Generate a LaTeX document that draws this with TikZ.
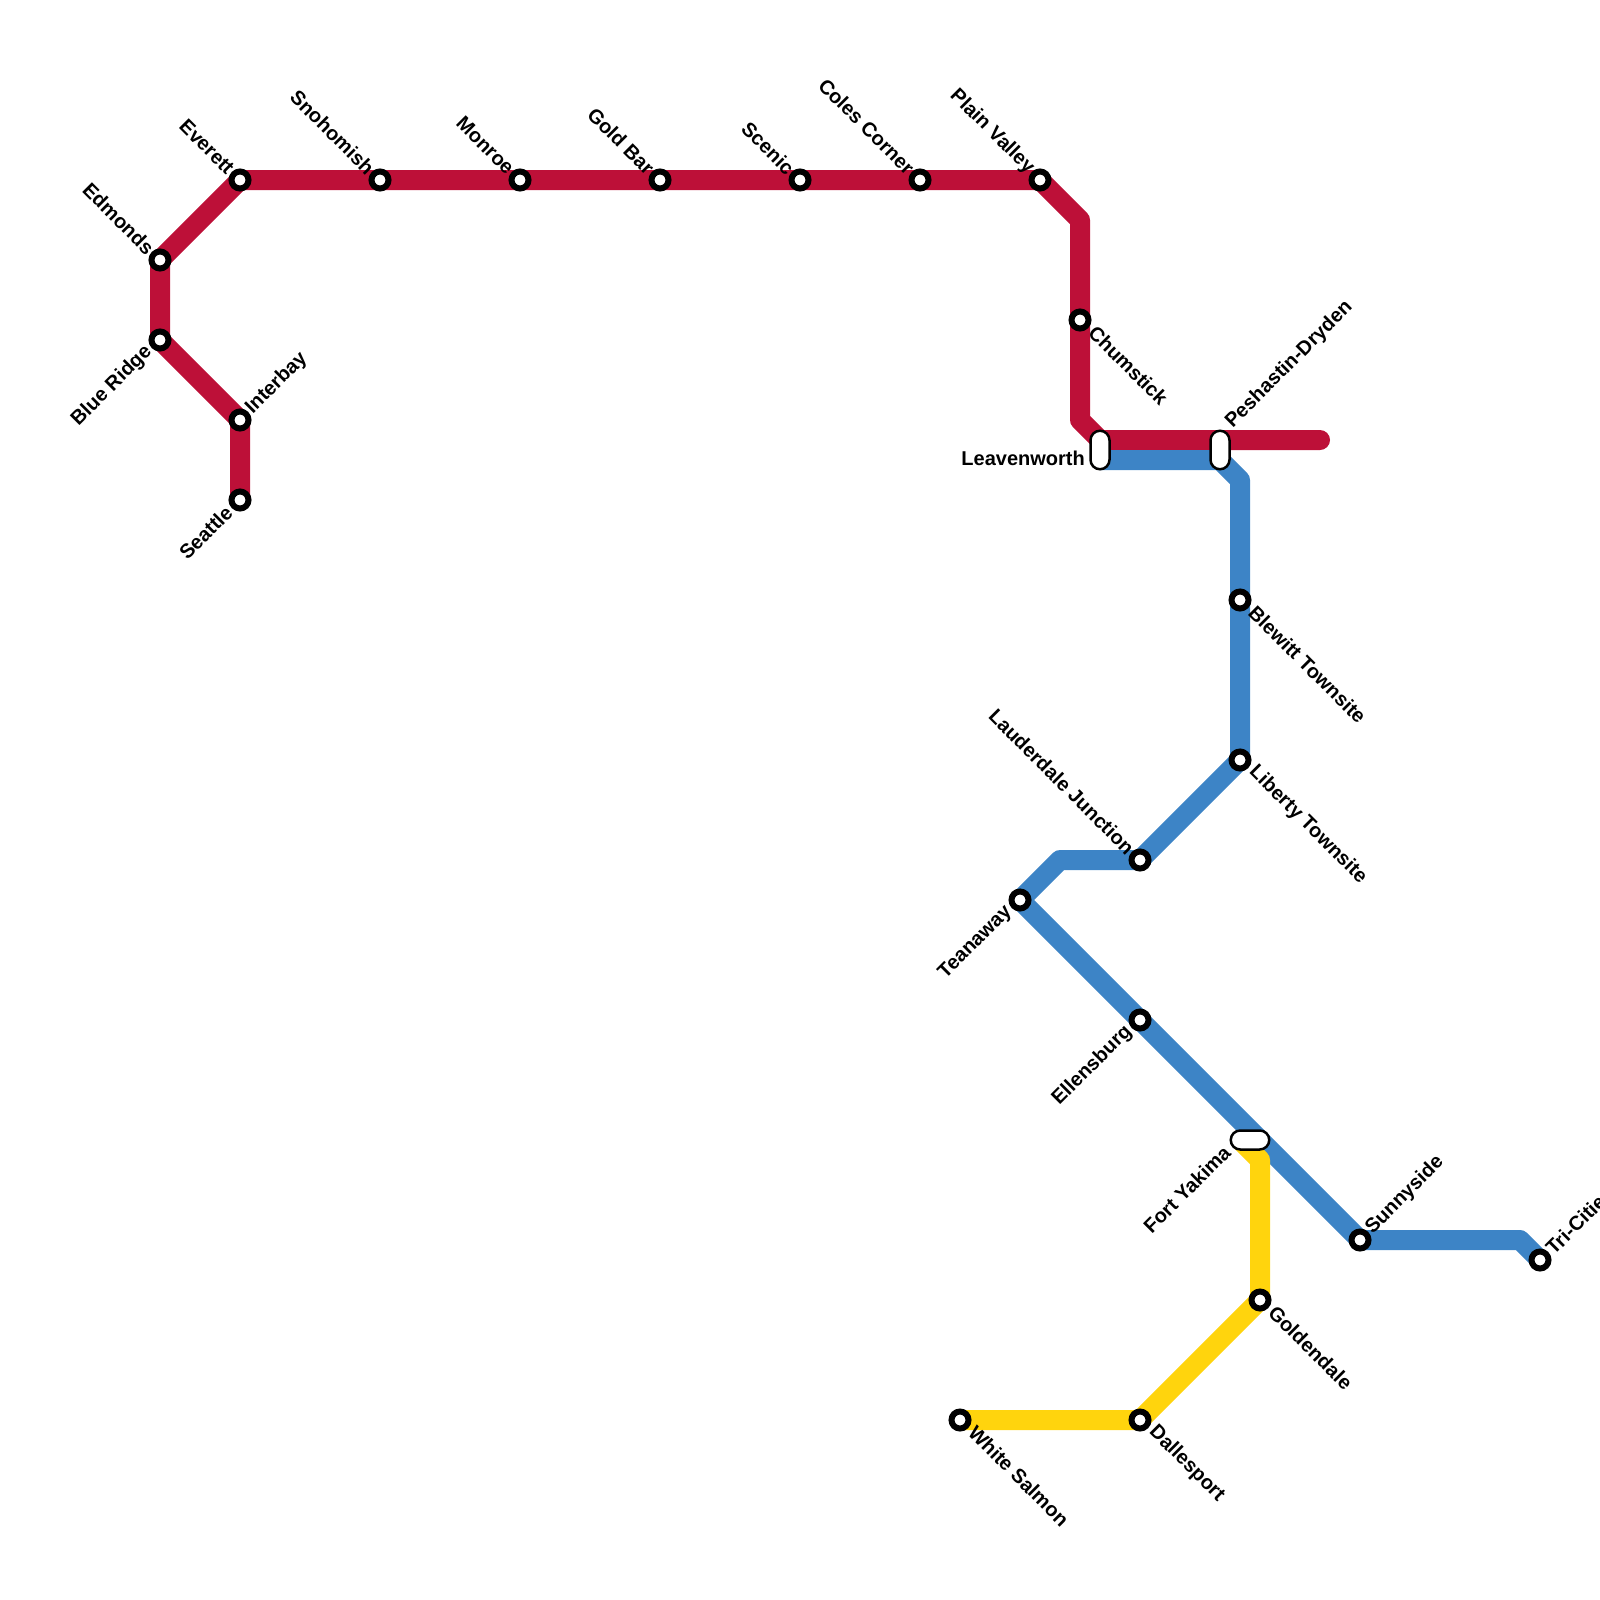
\documentclass[tikz,border=0pt]{standalone}
\usepackage{fontspec}
\setmainfont{Liberation Sans}
\usetikzlibrary{backgrounds}
\definecolor{redline}{HTML}{BD1038}
\definecolor{blueline}{HTML}{3D84C6}
\definecolor{yellowline}{HTML}{FFD40D}
\tikzset{
  metro/.style={line width=20pt,line join=round,line cap=round},
  stop/.style={circle,draw=black,fill=white,line width=6pt,minimum size=17pt,inner sep=0pt},
  pill/.style={draw=black,fill=white,line width=2.5pt,rounded corners=9.5pt,inner sep=0pt},
  pillv/.style={pill,minimum width=19pt,minimum height=38.5pt},
  pillh/.style={pill,minimum width=38.5pt,minimum height=19pt},
  lbl/.style={font=\fontsize{20pt}{22pt}\selectfont\bfseries,inner sep=0pt,text=black},
  ul/.style={lbl,xshift=-9pt,yshift=9pt,rotate=-45,anchor=east},
  ur/.style={lbl,xshift=9pt,yshift=9pt,rotate=45,anchor=west},
  ll/.style={lbl,xshift=-11pt,yshift=-9pt,rotate=45,anchor=east},
  lr/.style={lbl,xshift=12pt,yshift=-9pt,rotate=-45,anchor=west},
}
\begin{document}
\begin{tikzpicture}[x=1pt,y=-1pt]
\useasboundingbox (0,0) rectangle (1600,1600);
% stations
\node[stop] (seattle) at (240,500) {};
\node[stop] (interbay) at (240,420) {};
\node[stop] (blueridge) at (160,340) {};
\node[stop] (edmonds) at (160,260) {};
\node[stop] (everett) at (240,180) {};
\node[stop] (snohomish) at (380,180) {};
\node[stop] (monroe) at (520,180) {};
\node[stop] (goldbar) at (660,180) {};
\node[stop] (scenic) at (800,180) {};
\node[stop] (coles) at (920,180) {};
\node[stop] (plain) at (1040,180) {};
\node[stop] (chumstick) at (1080,320) {};
\node[pillv] (leavenworth) at (1100,450) {};
\node[pillv] (peshastin) at (1220,450) {};
\node[stop] (blewitt) at (1240,600) {};
\node[stop] (liberty) at (1240,760) {};
\node[stop] (lauderdale) at (1140,860) {};
\node[stop] (teanaway) at (1020,900) {};
\node[stop] (ellensburg) at (1140,1020) {};
\node[pillh] (yakima) at (1250,1140) {};
\node[stop] (sunnyside) at (1360,1240) {};
\node[stop] (tricities) at (1540,1260) {};
\node[stop] (goldendale) at (1260,1300) {};
\node[stop] (dallesport) at (1140,1420) {};
\node[stop] (whitesalmon) at (960,1420) {};
% free ends and bends
\coordinate (r1) at (1080,220);
\coordinate (r2) at (1080,420);
\coordinate (r3) at (1100,440);
\coordinate (rend) at (1320,440);
\coordinate (b0) at (1100,460);
\coordinate (b1) at (1220,460);
\coordinate (b2) at (1240,480);
\coordinate (b3) at (1060,860);
\coordinate (b4) at (1260,1140);
\coordinate (b5) at (1520,1240);
\coordinate (y0) at (1240,1140);
\coordinate (y1) at (1260,1160);
% lines
\begin{scope}[on background layer]
\draw[metro,redline] (seattle.center) -- (interbay.center) -- (blueridge.center) -- (edmonds.center) -- (everett.center) -- (snohomish.center) -- (monroe.center) -- (goldbar.center) -- (scenic.center) -- (coles.center) -- (plain.center) -- (r1) -- (chumstick.center) -- (r2) -- (r3) -- (rend);
\draw[metro,blueline] (b0) -- (b1) -- (b2) -- (blewitt.center) -- (liberty.center) -- (lauderdale.center) -- (b3) -- (teanaway.center) -- (ellensburg.center) -- (b4) -- (sunnyside.center) -- (b5) -- (tricities.center);
\draw[metro,yellowline] (y0) -- (y1) -- (goldendale.center) -- (dallesport.center) -- (whitesalmon.center);
\end{scope}
% labels
\node[ul] (l-everett) at (everett) {Everett};
\node[ul] (l-edmonds) at (edmonds) {Edmonds};
\node[ll] (l-blueridge) at (blueridge) {Blue Ridge};
\node[ur] (l-interbay) at (interbay) {Interbay};
\node[ll] (l-seattle) at (seattle) {Seattle};
\node[ul] (l-snohomish) at (snohomish) {Snohomish};
\node[ul] (l-monroe) at (monroe) {Monroe};
\node[ul] (l-goldbar) at (goldbar) {Gold Bar};
\node[ul] (l-scenic) at (scenic) {Scenic};
\node[ul] (l-coles) at (coles) {Coles Corner};
\node[ul] (l-plain) at (plain) {Plain Valley};
\node[lr] (l-chumstick) at (chumstick) {Chumstick};
\node[lbl,anchor=east] (l-leavenworth) at (1085,458) {Leavenworth};
\node[ur] (l-peshastin) at (1220,434) {Peshastin-Dryden};
\node[lr] (l-blewitt) at (blewitt) {Blewitt Townsite};
\node[lr] (l-liberty) at (liberty) {Liberty Townsite};
\node[ul] (l-lauderdale) at (lauderdale) {Lauderdale Junction};
\node[ll] (l-teanaway) at (teanaway) {Teanaway};
\node[ll] (l-ellensburg) at (ellensburg) {Ellensburg};
\node[ll] (l-yakima) at (1238,1140) {Fort Yakima};
\node[ur] (l-sunnyside) at (sunnyside) {Sunnyside};
\node[ur] (l-tricities) at (tricities) {Tri-Cities};
\node[lr] (l-goldendale) at (goldendale) {Goldendale};
\node[lr] (l-dallesport) at (dallesport) {Dallesport};
\node[lr] (l-whitesalmon) at (whitesalmon) {White Salmon};
\end{tikzpicture}
\end{document}
